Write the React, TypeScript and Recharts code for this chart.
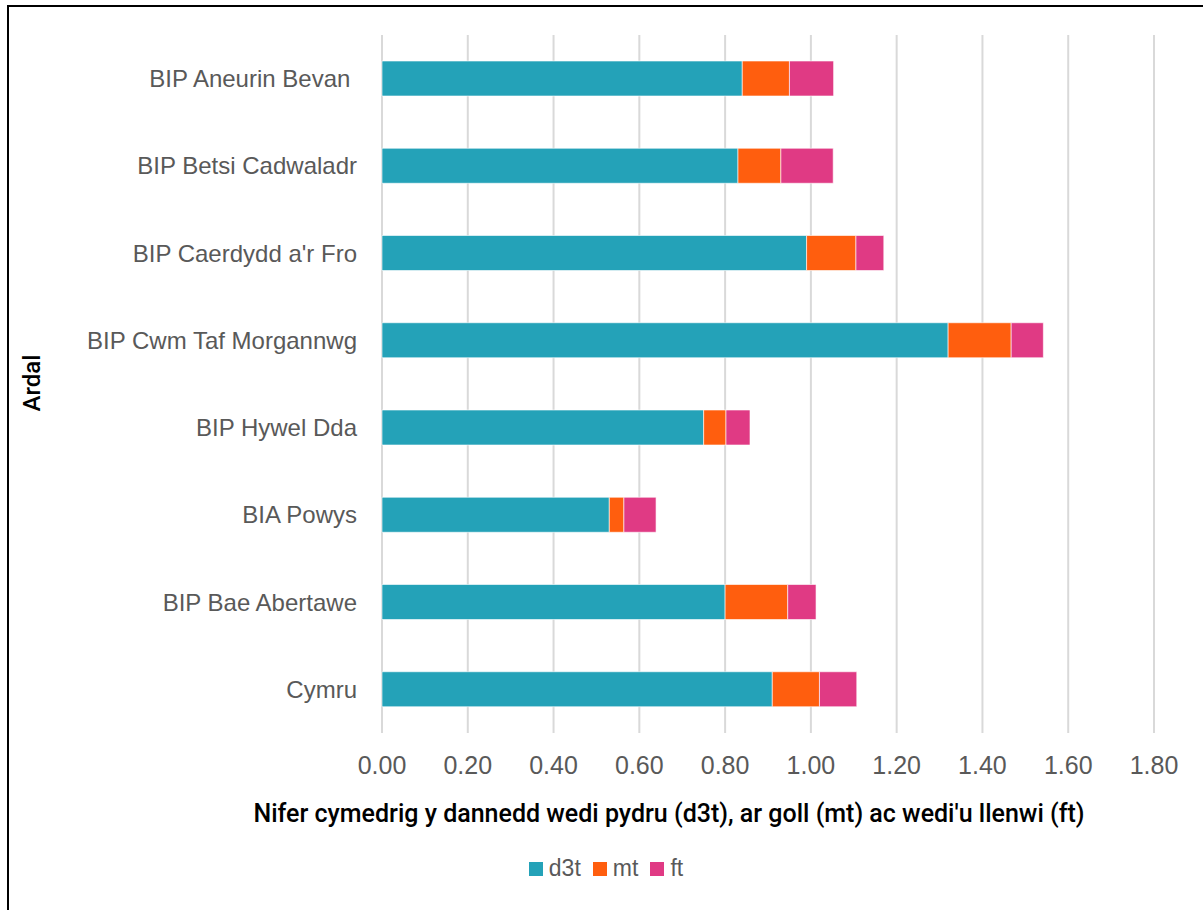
import React from "react";
import { BarChart, Bar, XAxis, YAxis, CartesianGrid } from "recharts";

const areas = [
  "BIP Aneurin Bevan\u00a0",
  "BIP Betsi Cadwaladr",
  "BIP Caerdydd a'r Fro",
  "BIP Cwm Taf Morgannwg",
  "BIP Hywel Dda",
  "BIA Powys",
  "BIP Bae Abertawe",
  "Cymru",
];
const d3t = [0.84, 0.83, 0.99, 1.32, 0.75, 0.53, 0.8, 0.91];
const mt = [0.11, 0.1, 0.115, 0.147, 0.052, 0.034, 0.146, 0.11];
const ft = [0.103, 0.122, 0.065, 0.075, 0.056, 0.075, 0.066, 0.087];
const xTicks = [0, 0.2, 0.4, 0.6, 0.8, 1.0, 1.2, 1.4, 1.6, 1.8];

const series = [
  { key: "d3t", color: "#24A2B8" },
  { key: "mt", color: "#FF5E0E" },
  { key: "ft", color: "#E03A84" },
];

const data = areas.map((name, i) => ({
  name,
  d3t: d3t[i],
  mt: mt[i],
  ft: ft[i],
}));

const FONT = "'Liberation Sans', Arial, sans-serif";
const TITLE_FONT = "Roboto, 'Liberation Sans', sans-serif";
const GREY = "#595959";

const App: React.FC = () => (
  <div
    style={{
      position: "fixed",
      left: 0,
      top: 0,
      width: 1203,
      height: 910,
      background: "#fff",
      fontFamily: FONT,
      overflow: "hidden",
    }}
  >
    <div
      style={{
        position: "absolute",
        left: 7,
        top: 5,
        width: 1210,
        height: 920,
        border: "2px solid #000",
        boxSizing: "border-box",
      }}
    />
    <div style={{ position: "absolute", left: 0, top: 0 }}>
      <BarChart
        width={1203}
        height={910}
        data={data}
        layout="vertical"
        margin={{ top: 35, right: 49, bottom: 117, left: 0 }}
        barSize={35}
      >
        <CartesianGrid horizontal={false} stroke="#d9d9d9" strokeWidth={2} />
        <XAxis
          type="number"
          domain={[0, 1.8]}
          ticks={xTicks}
          tickFormatter={(v: number) => v.toFixed(2)}
          axisLine={false}
          tickLine={false}
          tickMargin={17}
          height={60}
          interval={0}
          tick={{ fill: GREY, fontSize: 25, fontFamily: FONT }}
        />
        <YAxis
          type="category"
          dataKey="name"
          width={382}
          axisLine={false}
          tickLine={false}
          tickMargin={19}
          interval={0}
          tick={{ fill: GREY, fontSize: 24, fontFamily: FONT }}
        />
        {series.map((s) => (
          <Bar
            key={s.key}
            dataKey={s.key}
            stackId="a"
            fill={s.color}
            stroke="rgba(255,255,255,0.6)"
            strokeWidth={1}
            isAnimationActive={false}
          />
        ))}
      </BarChart>
    </div>
    <div
      style={{
        position: "absolute",
        left: 0,
        width: 1338,
        top: 799,
        textAlign: "center",
        fontSize: 25,
        fontWeight: 500,
        fontFamily: TITLE_FONT,
        color: "#000",
        whiteSpace: "nowrap",
      }}
    >
      Nifer cymedrig y dannedd wedi pydru (d3t), ar goll (mt) ac wedi'u llenwi (ft)
    </div>
    <div
      style={{
        position: "absolute",
        left: 32,
        top: 383,
        transform: "translate(-50%, -50%) rotate(-90deg)",
        fontSize: 24,
        fontWeight: 500,
        fontFamily: TITLE_FONT,
        color: "#000",
        whiteSpace: "nowrap",
      }}
    >
      Ardal
    </div>
    <div
      style={{
        position: "absolute",
        left: 0,
        width: 1224,
        top: 855,
        display: "flex",
        justifyContent: "center",
        alignItems: "center",
        fontSize: 23,
        color: GREY,
      }}
    >
      {series.map((s) => (
        <div key={s.key} style={{ display: "flex", alignItems: "center", marginRight: 12 }}>
          <span style={{ display: "inline-block", width: 14, height: 14, background: s.color, marginRight: 6 }} />
          <span>{s.key}</span>
        </div>
      ))}
    </div>
  </div>
);

export default App;
